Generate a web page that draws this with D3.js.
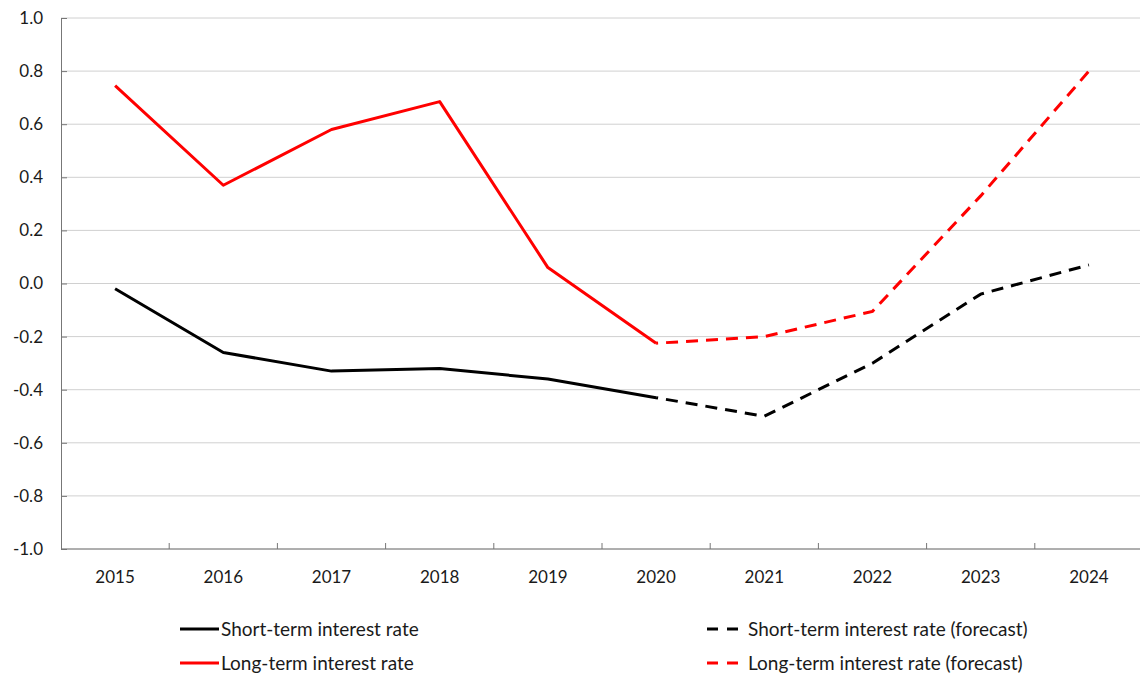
<!DOCTYPE html>
<html>
<head>
<meta charset="utf-8">
<script src="https://cdn.jsdelivr.net/npm/d3@7"></script>
<style>
  body { margin: 0; background: #fff; }
  text { font-family: Lato, "Open Sans", sans-serif; fill: #1a1a1a; }
</style>
</head>
<body>
<svg id="chart" width="1140" height="675"></svg>
<script>
// Interest rates, actual and forecast
const years = ["2015", "2016", "2017", "2018", "2019", "2020", "2021", "2022", "2023", "2024"];
const shortRate = [-0.02, -0.26, -0.33, -0.32, -0.36, -0.43, -0.50, -0.30, -0.04, 0.07];
const longRate = [0.745, 0.37, 0.58, 0.685, 0.06, -0.225, -0.20, -0.105, 0.33, 0.80];
const yTicks = [1.0, 0.8, 0.6, 0.4, 0.2, 0.0, -0.2, -0.4, -0.6, -0.8, -1.0];
const lastActual = "2020";

const svg = d3.select("#chart");
const margin = { left: 61, top: 18, right: 0, bottom: 126 };
const width = 1140 - margin.left - margin.right;
const height = 675 - margin.top - margin.bottom;

const g = svg.append("g").attr("transform", `translate(${margin.left},${margin.top})`);

const x = d3.scaleBand().domain(years).range([0, width + 3]);
const y = d3.scaleLinear().domain([-1, 1]).range([height, 0]);

// plain hyphen for negatives
const fmt = d => d3.format(".1f")(d).replace("\u2212", "-");

// horizontal gridlines
g.selectAll(".grid")
  .data(yTicks)
  .enter()
  .append("line")
  .attr("x1", 0)
  .attr("x2", width)
  .attr("y1", d => y(d))
  .attr("y2", d => y(d))
  .attr("stroke", "#d0d0d0")
  .attr("stroke-width", 1);

// y axis with ticks pointing into the plot
const yAxis = g.append("g")
  .call(d3.axisLeft(y).tickValues(yTicks).tickFormat(fmt).tickSize(-6).tickPadding(18));
yAxis.select(".domain").attr("stroke", "#777");
yAxis.selectAll(".tick line").attr("stroke", "#777");
yAxis.selectAll("text").attr("font-size", 17).style("font-family", "Lato, 'Open Sans', sans-serif").attr("fill", "#1a1a1a");

// x axis along the bottom, ticks between the categories
const xAxis = g.append("g").attr("transform", `translate(0,${height})`);
xAxis.append("line")
  .attr("x1", 0).attr("x2", width)
  .attr("stroke", "#777");
xAxis.selectAll(".sep")
  .data(years.slice(1))
  .enter()
  .append("line")
  .attr("x1", d => x(d))
  .attr("x2", d => x(d))
  .attr("y1", 0)
  .attr("y2", -6)
  .attr("stroke", "#777");
xAxis.selectAll(".lbl")
  .data(years)
  .enter()
  .append("text")
  .attr("x", d => x(d) + x.bandwidth() / 2)
  .attr("y", 34)
  .attr("text-anchor", "middle")
  .attr("font-size", 17)
  .text(d => d);

const line = d3.line()
  .x(d => x(d.year) + x.bandwidth() / 2)
  .y(d => y(d.value));

function split(values) {
  const pts = years.map((yr, i) => ({ year: yr, value: values[i] }));
  const k = years.indexOf(lastActual);
  return { actual: pts.slice(0, k + 1), forecast: pts.slice(k) };
}

const series = [
  { values: shortRate, color: "#000000" },
  { values: longRate, color: "#ff0000" }
];

series.forEach(s => {
  const parts = split(s.values);
  g.append("path")
    .datum(parts.actual)
    .attr("d", line)
    .attr("fill", "none")
    .attr("stroke", s.color)
    .attr("stroke-width", 3)
    .attr("stroke-linejoin", "round");
  g.append("path")
    .datum(parts.forecast)
    .attr("d", line)
    .attr("fill", "none")
    .attr("stroke", s.color)
    .attr("stroke-width", 3)
    .attr("stroke-dasharray", "12,8")
    .attr("stroke-dashoffset", 10);
});

// legend
const legendItems = [
  { label: "Short-term interest rate", color: "#000000", dash: null, x: 180, y: 629 },
  { label: "Long-term interest rate", color: "#ff0000", dash: null, x: 180, y: 663 },
  { label: "Short-term interest rate (forecast)", color: "#000000", dash: "11,9", x: 707, y: 629 },
  { label: "Long-term interest rate (forecast)", color: "#ff0000", dash: "11,9", x: 707, y: 663 }
];

const legend = svg.selectAll(".legend")
  .data(legendItems)
  .enter()
  .append("g")
  .attr("transform", d => `translate(${d.x},${d.y})`);

legend.append("line")
  .attr("x1", 0)
  .attr("x2", 39)
  .attr("stroke", d => d.color)
  .attr("stroke-width", 3)
  .attr("stroke-dasharray", d => d.dash);

legend.append("text")
  .attr("x", 41)
  .attr("dy", "0.35em")
  .attr("font-size", 19)
  .text(d => d.label);
</script>
</body>
</html>
